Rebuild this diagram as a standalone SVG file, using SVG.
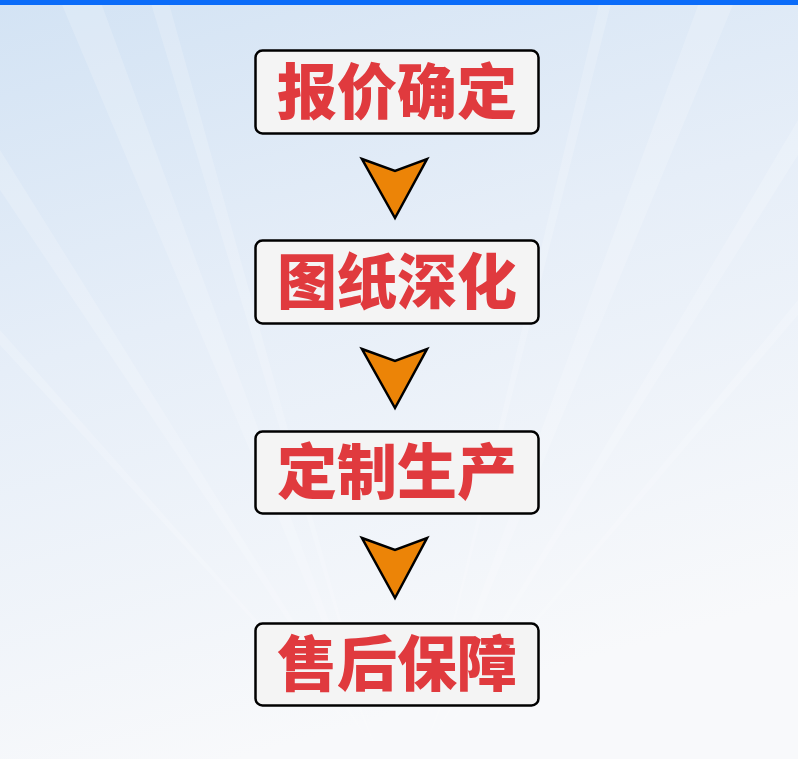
<svg xmlns="http://www.w3.org/2000/svg" width="798" height="759" viewBox="0 0 798 759">
<defs>
<linearGradient id="bg" x1="0" y1="0" x2="0.3" y2="1">
<stop offset="0" stop-color="#d3e3f4"/>
<stop offset="0.45" stop-color="#e6eef8"/>
<stop offset="1" stop-color="#f8f9fb"/>
</linearGradient>
<style>
.box{fill:#f4f4f4;stroke:#000;stroke-width:2.5}
.lbl{font-family:"Noto Sans CJK SC","Noto Sans",sans-serif;font-weight:900;font-size:60px;fill:#e03a3e;text-anchor:middle}
.arr{fill:#ec8407;stroke:#000;stroke-width:2.5;stroke-linejoin:miter}
.ray{fill:#ffffff;opacity:0.18}
</style>
</defs>
<rect width="798" height="759" fill="url(#bg)"/>
<g id="background-rays">
<polygon class="ray" points="380,759 60,0 100,0"/>
<polygon class="ray" points="380,759 150,0 168,0"/>
<polygon class="ray" points="380,759 0,150 0,190"/>
<polygon class="ray" points="380,759 0,330 0,345"/>
<polygon class="ray" points="420,759 700,0 735,0"/>
<polygon class="ray" points="420,759 798,120 798,155"/>
<polygon class="ray" points="420,759 798,300 798,315"/>
<polygon class="ray" points="420,759 600,0 612,0"/>
</g>
<rect x="0" y="0" width="798" height="5" fill="#0b6cf9"/>
<g id="connectors">
<polygon class="arr" points="362,159 395,171 427,159 395,218"/>
<polygon class="arr" points="362,349 395,361 427,349 395,408"/>
<polygon class="arr" points="362,538 395,550 427,538 395,598"/>
</g>
<g id="node1">
<rect class="box" x="255.5" y="50.5" width="283" height="83" rx="7"/>
<text class="lbl" x="397" y="114">报价确定</text>
</g>
<g id="node2">
<rect class="box" x="255.5" y="240.5" width="283" height="83" rx="7"/>
<text class="lbl" x="397" y="304">图纸深化</text>
</g>
<g id="node3">
<rect class="box" x="255.5" y="431.5" width="283" height="82" rx="7"/>
<text class="lbl" x="397" y="494">定制生产</text>
</g>
<g id="node4">
<rect class="box" x="255.5" y="623.5" width="283" height="82" rx="7"/>
<text class="lbl" x="397" y="686">售后保障</text>
</g>
</svg>
